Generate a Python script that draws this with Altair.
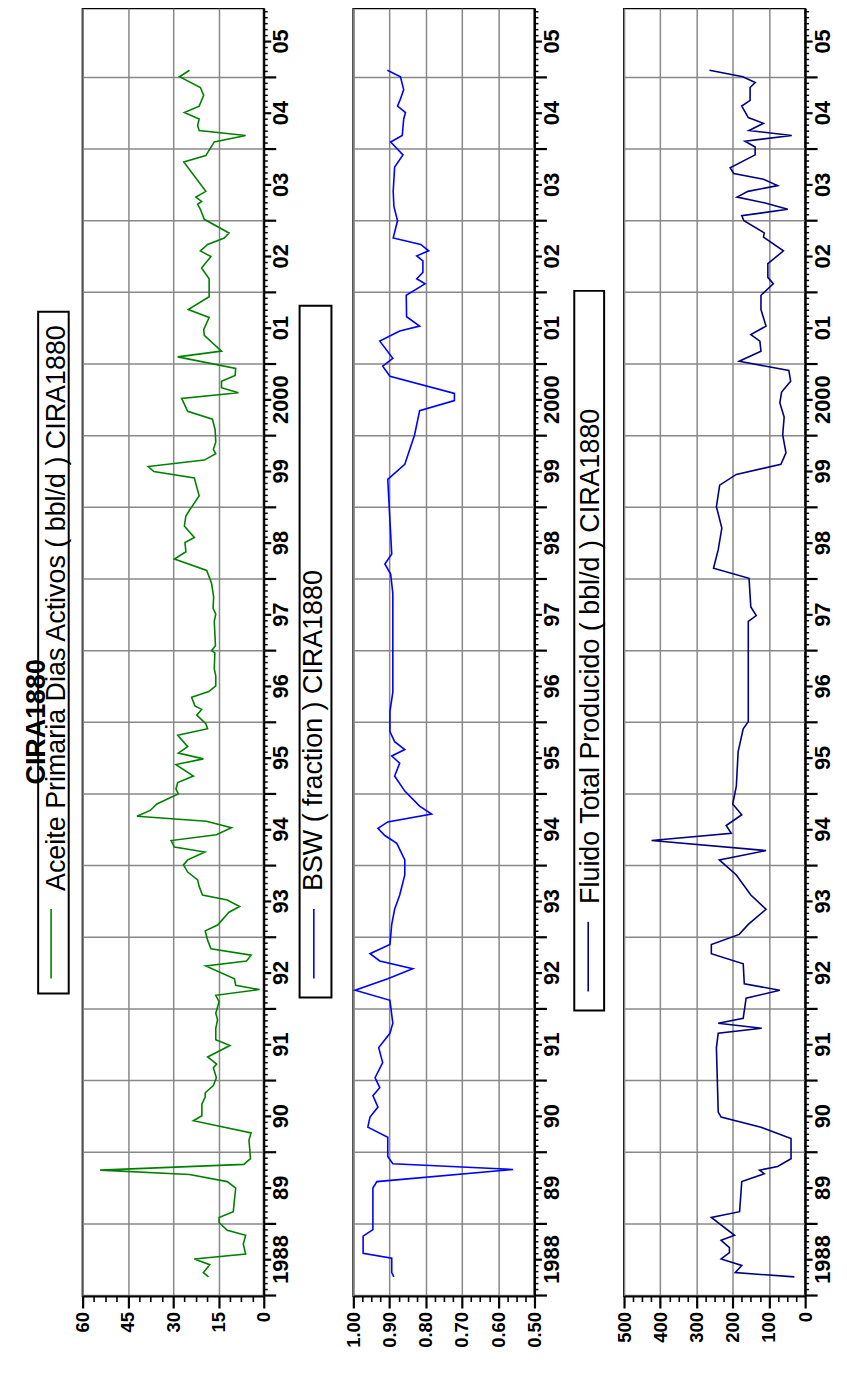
import json
import altair as alt
import pandas as pd

# ---------------- data (time in decimal years, values as read) ----------------
OIL_T = [1988.25, 1988.31, 1988.42, 1988.50, 1988.57, 1988.71, 1988.83, 1988.90, 1989.01, 1989.08,
         1989.16, 1989.33, 1989.49, 1989.58, 1989.68, 1989.74, 1989.82, 1989.90, 1990.16, 1990.26,
         1990.43, 1990.50, 1990.66, 1990.76, 1990.82, 1990.92, 1991.03, 1991.17, 1991.22, 1991.32,
         1991.48, 1991.56, 1991.72, 1991.84, 1991.93, 1992.09, 1992.18, 1992.26, 1992.32, 1992.41,
         1992.59, 1992.66, 1992.74, 1992.83, 1992.95, 1993.08, 1993.16, 1993.34, 1993.42, 1993.51,
         1993.58, 1993.70, 1993.79, 1993.90, 1994.00, 1994.07, 1994.18, 1994.25, 1994.34, 1994.42,
         1994.52, 1994.61, 1994.68, 1994.76, 1994.85, 1994.99, 1995.06, 1995.15, 1995.24, 1995.40,
         1995.48, 1995.56, 1995.65, 1995.81, 1995.90, 1995.97, 1996.09, 1996.17, 1996.22, 1996.34,
         1996.42, 1996.50, 1996.64, 1996.74, 1996.96, 1996.99, 1997.06, 1997.40, 1997.50, 1997.58,
         1997.74, 1997.93, 1998.11, 1998.27, 1998.37, 1998.50, 1998.57, 1998.73, 1998.87, 1998.95,
         1999.15, 1999.40, 1999.49, 1999.56, 1999.65, 1999.74, 1999.80, 1999.90, 2000.07, 2000.22,
         2000.33, 2000.51, 2000.59, 2000.66, 2000.75, 2000.83, 2000.93, 2001.09, 2001.17, 2001.39,
         2001.47, 2001.64, 2001.75, 2001.93, 2002.18, 2002.33, 2002.49, 2002.57, 2002.66, 2002.75,
         2002.82, 2003.01, 2003.15, 2003.22, 2003.26, 2003.32, 2003.40, 2003.81, 2003.90, 2004.09,
         2004.18, 2004.25, 2004.32, 2004.41, 2004.50, 2004.59, 2004.74, 2004.85, 2005.00, 2005.09]
OIL_V = [18.3, 20.0, 17.9, 23.0, 6.0, 6.8, 6.0, 12.1, 14.8, 14.8,
         10.1, 9.7, 9.3, 12.1, 24.6, 54.2, 6.6, 4.4, 4.9, 4.2,
         23.3, 20.5, 20.5, 19.4, 19.4, 16.7, 15.7, 16.7, 15.6, 18.6,
         11.2, 15.9, 15.9, 15.3, 15.9, 14.8, 15.9, 1.4, 9.3, 9.7,
         19.2, 5.7, 4.2, 17.5, 18.6, 19.4, 15.3, 11.5, 8.0, 12.1,
         20.3, 21.4, 21.9, 25.2, 26.6, 25.2, 19.5, 29.6, 30.7, 15.7,
         10.7, 19.0, 42.0, 37.6, 35.4, 28.3, 29.1, 28.5, 23.3, 29.1,
         20.0, 28.3, 25.2, 28.5, 18.6, 19.2, 22.2, 20.6, 22.8, 23.9,
         18.2, 15.9, 15.9, 16.4, 16.2, 17.3, 16.0, 16.4, 15.9, 16.8,
         16.6, 17.3, 18.9, 29.6, 25.8, 26.1, 23.0, 26.3, 25.8, 24.6,
         21.4, 23.0, 36.4, 38.3, 19.7, 15.9, 16.7, 15.9, 16.1, 17.0,
         25.2, 27.2, 8.4, 14.0, 14.0, 9.5, 9.3, 28.5, 14.0, 19.7,
         19.9, 18.1, 25.0, 18.1, 18.1, 20.6, 17.5, 21.0, 18.6, 13.1,
         11.5, 19.7, 21.0, 21.9, 20.6, 22.5, 19.2, 26.5, 19.2, 16.4,
         6.0, 21.4, 21.9, 21.4, 26.3, 21.4, 19.9, 21.0, 27.9, 24.6]

BSW_T = [1988.25, 1988.31, 1988.51, 1988.58, 1988.82, 1988.91, 1989.49, 1989.58, 1989.75, 1989.83,
         1989.93, 1990.20, 1990.34, 1990.48, 1990.62, 1990.78, 1990.89, 1991.03, 1991.24, 1991.45,
         1991.65, 1991.79, 1992.11, 1992.25, 1992.41, 1992.55, 1992.66, 1992.76, 1992.89, 1993.17,
         1993.38, 1993.58, 1993.86, 1994.07, 1994.30, 1994.41, 1994.51, 1994.60, 1994.71, 1994.82,
         1995.03, 1995.24, 1995.42, 1995.52, 1995.61, 1995.72, 1995.86, 1996.14, 1996.41, 1997.79,
         1998.06, 1998.20, 1998.34, 1999.38, 1999.59, 2000.00, 2000.34, 2000.48, 2000.58, 2000.82,
         2000.96, 2001.07, 2001.31, 2001.45, 2001.52, 2001.65, 2001.95, 2002.11, 2002.18, 2002.27,
         2002.43, 2002.50, 2002.57, 2002.66, 2002.75, 2002.99, 2003.19, 2003.40, 2003.74, 2003.91,
         2004.09, 2004.18, 2004.41, 2004.50, 2004.59, 2004.69, 2004.82, 2005.00, 2005.09]
BSW_V = [0.888, 0.894, 0.894, 0.973, 0.973, 0.946, 0.946, 0.935, 0.559, 0.891,
         0.905, 0.905, 0.960, 0.954, 0.932, 0.946, 0.927, 0.940, 0.919, 0.930,
         0.899, 0.891, 0.899, 0.995, 0.905, 0.836, 0.927, 0.954, 0.899, 0.894,
         0.886, 0.872, 0.858, 0.858, 0.880, 0.913, 0.932, 0.905, 0.784, 0.817,
         0.858, 0.886, 0.872, 0.894, 0.858, 0.886, 0.899, 0.899, 0.891, 0.891,
         0.897, 0.913, 0.894, 0.905, 0.858, 0.831, 0.817, 0.721, 0.721, 0.899,
         0.919, 0.891, 0.927, 0.872, 0.817, 0.853, 0.854, 0.802, 0.825, 0.808,
         0.808, 0.825, 0.792, 0.814, 0.890, 0.878, 0.888, 0.890, 0.886, 0.863,
         0.897, 0.865, 0.861, 0.856, 0.878, 0.870, 0.861, 0.870, 0.906]

FLUID_T = [1988.25, 1988.31, 1988.41, 1988.50, 1988.59, 1988.66, 1988.76, 1988.83, 1989.08, 1989.16,
           1989.58, 1989.69, 1989.74, 1989.79, 1989.90, 1990.18, 1990.34, 1990.48, 1990.55, 1991.45,
           1991.65, 1991.72, 1991.79, 1991.86, 1992.14, 1992.25, 1992.34, 1992.62, 1992.76, 1992.89,
           1993.03, 1993.17, 1993.38, 1993.58, 1993.86, 1994.07, 1994.20, 1994.34, 1994.44, 1994.55,
           1994.70, 1994.85, 1995.10, 1995.58, 1995.90, 1996.00, 1997.40, 1997.48, 1997.60, 1998.00,
           1998.14, 1998.40, 1998.70, 1999.00, 1999.30, 1999.45, 1999.59, 1999.75, 2000.00, 2000.25,
           2000.45, 2000.60, 2000.75, 2000.90, 2001.03, 2001.17, 2001.31, 2001.40, 2001.52, 2001.75,
           2001.95, 2002.11, 2002.20, 2002.39, 2002.57, 2002.76, 2002.82, 2002.99, 2003.06, 2003.15,
           2003.24, 2003.32, 2003.40, 2003.48, 2003.57, 2003.65, 2003.73, 2003.91, 2004.02, 2004.10,
           2004.18, 2004.25, 2004.35, 2004.43, 2004.59, 2004.67, 2004.85, 2004.92, 2005.00, 2005.09]
FLUID_V = [30, 193, 175, 232, 209, 209, 232, 195, 259, 181,
           175, 113, 126, 76, 39, 39, 122, 232, 240, 245,
           240, 120, 240, 171, 163, 70, 168, 171, 259, 259,
           182, 157, 108, 150, 190, 237, 108, 424, 204, 218,
           175, 200, 190, 185, 171, 157, 157, 135, 150, 155,
           253, 240, 230, 245, 236, 190, 67, 53, 62, 58,
           70, 65, 40, 45, 182, 122, 125, 150, 108, 122,
           122, 88, 103, 103, 60, 115, 113, 169, 175, 48,
           113, 188, 158, 76, 115, 197, 207, 138, 138, 166,
           37, 155, 115, 157, 175, 152, 152, 138, 172, 264]

YEAR_LABELS = ["1988", "89", "90", "91", "92", "93", "94", "95", "96", "97",
               "98", "99", "2000", "01", "02", "03", "04", "05"]
OIL_TICKS = [60, 45, 30, 15, 0]
BSW_TICKS = [1.0, 0.9, 0.8, 0.7, 0.6, 0.5]
FLUID_TICKS = [500, 400, 300, 200, 100, 0]

TITLE = "CIRA1880"
LEGENDS = ["Aceite Primaria Dias Activos ( bbl/d ) CIRA1880",
           "BSW ( fraction ) CIRA1880",
           "Fluido Total Producido ( bbl/d ) CIRA1880"]
COLORS = ["#008000", "#0000ff", "#000080"]

# ---------------- layout / style ----------------
T_DOMAIN = [1987.983, 2005.956]
PW, PH = 182, 1294
FONT = "Liberation Sans"
GRID = "#888888"

MONTHS = [round(1988 + k / 12, 5) for k in range(0, 18 * 12)]
IS_YEAR = "abs(datum.value - round(datum.value)) < 0.001"
IS_MID = "abs(datum.value - floor(datum.value) - 0.5) < 0.001"
YEAR_EXPR = ("(" + IS_MID + ") ? " + json.dumps(YEAR_LABELS)
             + "[floor(datum.value) - 1988] : ''")

Y_AXIS = alt.Axis(
    orient="right", values=MONTHS, title=None, labelExpr=YEAR_EXPR,
    labelAngle=270, labelAlign="center", labelBaseline="top",
    labelFontSize=22, labelPadding=0, labelFlush=False, labelOverlap=False,
    tickSize={"condition": [{"test": IS_YEAR, "value": 12}, {"test": IS_MID, "value": 7}],
              "value": 3.5},
    tickWidth={"condition": {"test": IS_YEAR + " || " + IS_MID, "value": 2.2}, "value": 1.5},
    grid=True, gridColor=GRID, gridWidth=1.5,
    gridOpacity={"condition": {"test": IS_YEAR, "value": 1}, "value": 0},
    domainWidth=2)


def x_axis(step, minor, fmt):
    is_major = f"abs(datum.value / {step} - round(datum.value / {step})) < 0.001"
    return alt.Axis(
        orient="bottom", values=minor, format=fmt, title=None,
        labelExpr=f"({is_major}) ? datum.label : ''",
        labelAngle=270, labelAlign="right", labelBaseline="middle",
        labelFontSize=18.5, labelPadding=3.5, labelFlush=False, labelOverlap=False,
        tickSize={"condition": {"test": is_major, "value": 12}, "value": 5.5},
        tickWidth={"condition": {"test": is_major, "value": 2.2}, "value": 1.6},
        grid=True, gridColor=GRID, gridWidth=1.5,
        gridOpacity={"condition": {"test": is_major, "value": 1}, "value": 0},
        domainWidth=2)


def panel(t, v, color, domain, step, minor, fmt, legend, box, sx, sample, tx, text_y, title=False):
    df = pd.DataFrame({"t": t, "v": v, "i": list(range(len(t)))})
    xs = alt.Scale(domain=domain, reverse=True, nice=False, zero=False)
    ys = alt.Scale(domain=T_DOMAIN, nice=False, zero=False)

    main = alt.Chart(df).mark_line(color=color, strokeWidth=1.6).encode(
        x=alt.X("v:Q", scale=xs, axis=x_axis(step, minor, fmt)),
        y=alt.Y("t:Q", scale=ys, axis=Y_AXIS),
        order="i:Q",
    )

    one = alt.Chart(pd.DataFrame({"k": [0]}))
    rect = one.mark_rect(fill="white", stroke="black", strokeWidth=2).encode(
        x=alt.value(box[0]), x2=alt.value(box[1]), y=alt.value(box[2]), y2=alt.value(box[3]))
    samp = one.mark_rule(color=color, strokeWidth=1.6).encode(
        x=alt.value(sx), y=alt.value(sample[0]), y2=alt.value(sample[1]))
    txt = one.mark_text(angle=270, align="left", baseline="middle", font=FONT,
                        fontSize=27, color="black").encode(
        x=alt.value(tx), y=alt.value(text_y), text=alt.value(legend))
    layers = [main, rect, samp, txt]
    if title:
        layers.append(one.mark_text(angle=270, align="center", baseline="middle", font=FONT,
                                    fontSize=27, fontWeight="bold", color="black").encode(
            x=alt.value(-46), y=alt.value(717), text=alt.value(TITLE)))
    return alt.layer(*layers).properties(width=PW, height=PH)


p1 = panel(OIL_T, OIL_V, COLORS[0], [0, 60], 15,
           [round(i * 3.75, 3) for i in range(17)], "d", LEGENDS[0],
           (-44.7, -14.0, 305, 990), -31.7, (905, 975), -26, 887, title=True)
p2 = panel(BSW_T, BSW_V, COLORS[1], [0.5, 1.0], 0.1,
           [round(0.5 + i * 0.025, 3) for i in range(21)], ".2f", LEGENDS[1],
           (-54, -22, 299, 994), -39.7, (905, 975), -39.3, 887)
p3 = panel(FLUID_T, FLUID_V, COLORS[2], [0, 500], 100,
           [i * 25 for i in range(21)], "d", LEGENDS[2],
           (-50, -20, 284, 1007), -36, (918, 988), -33.5, 900)

chart = alt.hconcat(p1, p2, p3, spacing=90, bounds="flush").properties(
    padding={"left": 14, "top": -4, "right": 0, "bottom": 0}
).configure_view(stroke="black", strokeWidth=2).configure_axis(
    labelFont=FONT, labelFontWeight="bold", labelColor="black",
    tickColor="black", domainColor="black")

chart.save("out.html", embed_options={"renderer": "svg", "actions": False})
